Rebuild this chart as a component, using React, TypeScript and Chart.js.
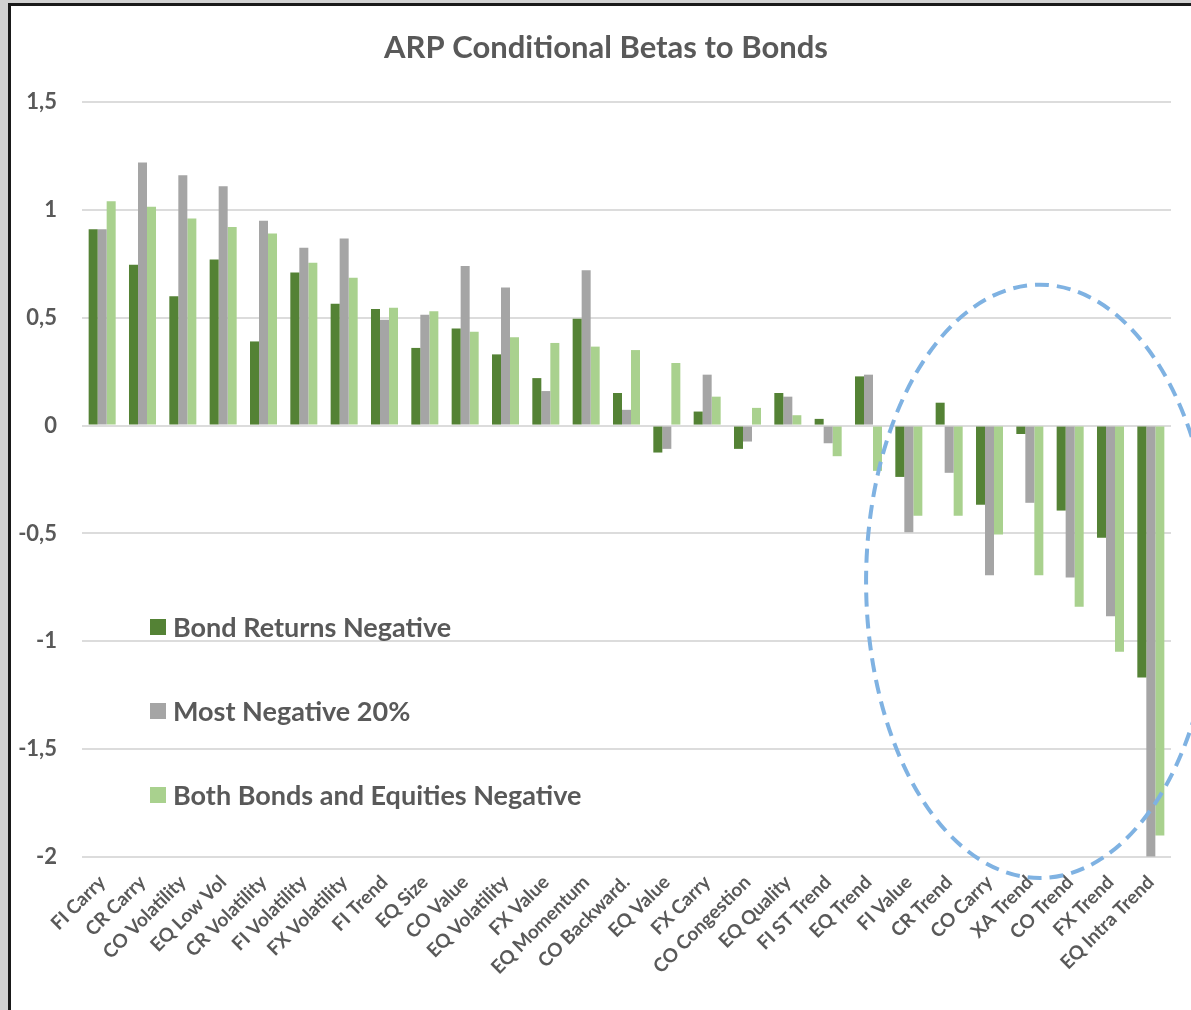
import React, { useEffect, useRef } from "react";
import { Chart, registerables } from "chart.js";

Chart.register(...registerables);

const TITLE = "ARP Conditional Betas to Bonds";

const CATEGORIES = [
  "FI Carry", "CR Carry", "CO Volatility", "EQ Low Vol", "CR Volatility", "FI Volatility",
  "FX Volatility", "FI Trend", "EQ Size", "CO Value", "EQ Volatility", "FX Value",
  "EQ Momentum", "CO Backward.", "EQ Value", "FX Carry", "CO Congestion", "EQ Quality",
  "FI ST Trend", "EQ Trend", "FI Value", "CR Trend", "CO Carry", "XA Trend",
  "CO Trend", "FX Trend", "EQ Intra Trend",
];

const SERIES_NAMES = ["Bond Returns Negative", "Most Negative 20%", "Both Bonds and Equities Negative"];

const BOND_NEG = [
  0.91, 0.745, 0.6, 0.77, 0.39, 0.71, 0.565, 0.54, 0.36, 0.45, 0.33, 0.22, 0.495, 0.151,
  -0.125, 0.065, -0.108, 0.151, 0.031, 0.228, -0.238, 0.106, -0.367, -0.039, -0.394, -0.52, -1.168,
];
const MOST_NEG = [
  0.91, 1.22, 1.16, 1.11, 0.95, 0.824, 0.867, 0.49, 0.514, 0.74, 0.64, 0.16, 0.72, 0.073,
  -0.108, 0.236, -0.074, 0.134, -0.082, 0.236, -0.495, -0.219, -0.694, -0.358, -0.704, -0.884, -1.998,
];
const BOTH_NEG = [
  1.04, 1.014, 0.96, 0.92, 0.89, 0.755, 0.685, 0.546, 0.53, 0.435, 0.41, 0.383, 0.366, 0.35,
  0.29, 0.134, 0.082, 0.048, -0.142, -0.21, -0.418, -0.418, -0.505, -0.694, -0.84, -1.049, -1.9,
];

const Y_MIN = -2;
const Y_MAX = 1.5;
const Y_STEP = 0.5;

// highlight ellipse in data units (category index, value)
const ELLIPSE_CENTER_INDEX = 23.25;
const ELLIPSE_CENTER_VALUE = -0.722;
const ELLIPSE_HALF_WIDTH = 4.31;
const ELLIPSE_HALF_HEIGHT = 1.375;

const COLORS = ["#548235", "#A5A5A5", "#A9D18E"];
const TEXT = "#595959";
const FONT = "Lato, 'Open Sans', sans-serif";

export default function App() {
  const ref = useRef<HTMLCanvasElement | null>(null);

  useEffect(() => {
    if (!ref.current) return;

    const overlay = {
      id: "overlay",
      afterDatasetsDraw(chart: any) {
        const { ctx, scales } = chart;
        const xs = scales.x;
        const ys = scales.y;
        const cx = xs.getPixelForValue(ELLIPSE_CENTER_INDEX);
        const rx = xs.getPixelForValue(ELLIPSE_CENTER_INDEX + ELLIPSE_HALF_WIDTH) - cx;
        const cy = ys.getPixelForValue(ELLIPSE_CENTER_VALUE);
        const ry = ys.getPixelForValue(ELLIPSE_CENTER_VALUE - ELLIPSE_HALF_HEIGHT) - cy;
        ctx.save();
        ctx.beginPath();
        ctx.ellipse(cx, cy, Math.abs(rx), Math.abs(ry), 0, 0, Math.PI * 2);
        ctx.setLineDash([14, 8]);
        ctx.lineWidth = 4;
        ctx.strokeStyle = "#7FB2E2";
        ctx.stroke();
        ctx.restore();
      },
      afterDraw(chart: any) {
        const { ctx, chartArea, width } = chart;
        ctx.save();
        ctx.fillStyle = TEXT;
        ctx.font = `bold 31px ${FONT}`;
        ctx.textAlign = "center";
        ctx.textBaseline = "middle";
        ctx.fillText(TITLE, width / 2, 42);
        ctx.font = `bold 27px ${FONT}`;
        ctx.textAlign = "left";
        chart.data.datasets.forEach((ds: any, i: number) => {
          const yc = chartArea.top + 525 + i * 84;
          const x0 = chartArea.left + 68;
          ctx.fillStyle = ds.backgroundColor;
          ctx.fillRect(x0, yc - 8, 16, 16);
          ctx.fillStyle = TEXT;
          ctx.fillText(ds.label, x0 + 23, yc + 1);
        });
        ctx.restore();
      },
    };

    const chart = new Chart(ref.current, {
      type: "bar",
      data: {
        labels: CATEGORIES,
        datasets: [
          { label: SERIES_NAMES[0], data: BOND_NEG, backgroundColor: COLORS[0] },
          { label: SERIES_NAMES[1], data: MOST_NEG, backgroundColor: COLORS[1] },
          { label: SERIES_NAMES[2], data: BOTH_NEG, backgroundColor: COLORS[2] },
        ],
      },
      options: {
        animation: false,
        responsive: false,
        maintainAspectRatio: false,
        layout: { padding: { top: 96, right: 30, left: 0, bottom: 0 } },
        datasets: {
          bar: { barPercentage: 1.0, categoryPercentage: 0.67, borderWidth: 0 },
        },
        plugins: {
          legend: { display: false },
          title: { display: false },
          tooltip: { enabled: false },
        },
        scales: {
          x: {
            grid: { display: false },
            border: { display: false },
            ticks: {
              autoSkip: false,
              maxRotation: 45,
              minRotation: 45,
              padding: 6,
              color: TEXT,
              font: { family: FONT, size: 19, weight: "bold" },
            },
            afterFit(scale: any) {
              scale.height = 153;
            },
          },
          y: {
            min: Y_MIN,
            max: Y_MAX,
            grid: { color: "#dcdcdc", lineWidth: 2, drawTicks: false },
            border: { display: false },
            ticks: {
              stepSize: Y_STEP,
              padding: 25,
              color: TEXT,
              font: { family: FONT, size: 22, weight: "bold" },
              callback: (v: any) => String(Number(v)).replace(".", ","),
            },
            afterFit(scale: any) {
              scale.width = 71;
            },
          },
        },
      },
      plugins: [overlay],
    });

    return () => chart.destroy();
  }, []);

  return (
    <div
      style={{
        position: "fixed",
        left: 0,
        top: 0,
        width: 1191,
        height: 1010,
        background: "#d2d2d2",
        overflow: "hidden",
      }}
    >
      <div
        style={{
          position: "absolute",
          left: 8,
          top: 3,
          width: 1200,
          height: 1020,
          borderLeft: "3px solid #1a1a1a",
          borderTop: "3px solid #1a1a1a",
          background: "#ffffff",
        }}
      >
        <canvas
          ref={ref}
          width={1190}
          height={1004}
          style={{ position: "absolute", left: 0, top: 0, display: "block" }}
        />
      </div>
    </div>
  );
}
